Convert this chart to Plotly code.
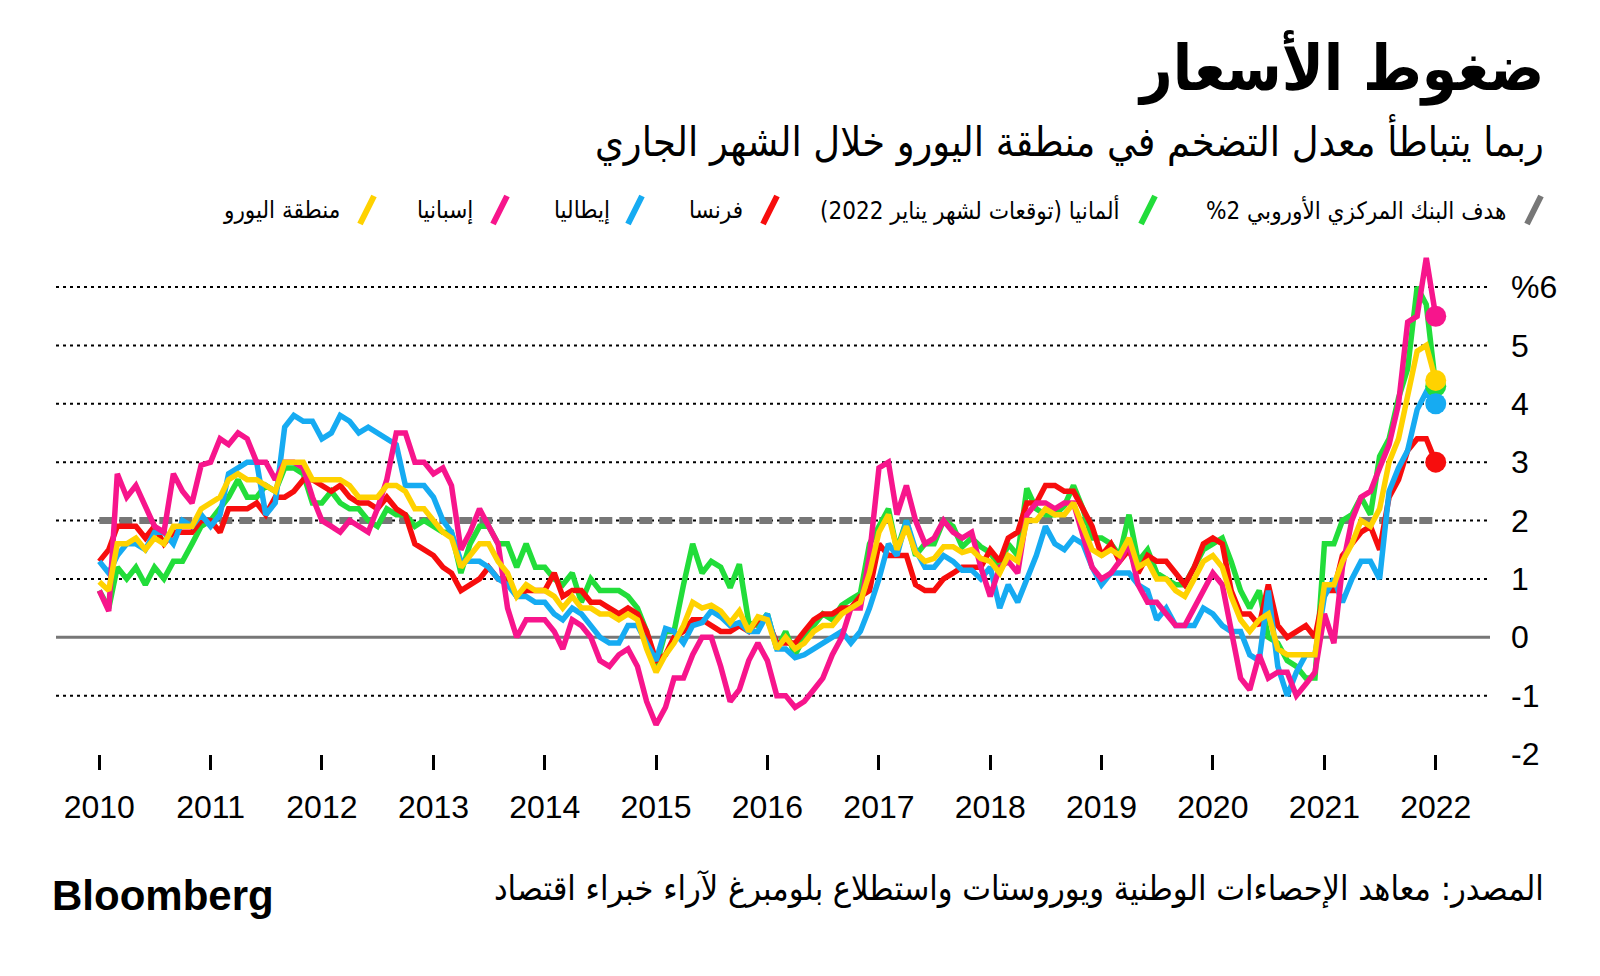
import plotly.graph_objects as go
import pandas as pd

# ---------------- data ----------------
dates = pd.date_range("2010-01-01", "2022-01-01", freq="MS")

germany = [
    0.8, 0.5, 1.2, 1.0, 1.2, 0.9, 1.2, 1.0, 1.3, 1.3, 1.6, 1.9,
    2.0, 2.2, 2.4, 2.7, 2.4, 2.4, 2.6, 2.5, 2.9, 2.9, 2.8, 2.3,
    2.3, 2.5, 2.3, 2.2, 2.2, 2.0, 1.9, 2.2, 2.1, 2.1, 1.9, 2.0,
    1.9, 1.8, 1.8, 1.1, 1.6, 1.9, 1.9, 1.6, 1.6, 1.2, 1.6, 1.2,
    1.2, 1.0, 0.9, 1.1, 0.6, 1.0, 0.8, 0.8, 0.8, 0.7, 0.5, 0.1,
    -0.5, 0.1, 0.1, 0.9, 1.6, 1.1, 1.3, 1.2, 0.85, 1.25, 0.25, 0.2,
    0.4, -0.2, 0.1, -0.3, 0.0, 0.2, 0.4, 0.3, 0.55, 0.65, 0.75, 1.6,
    1.9, 2.2, 1.5, 2.0, 1.4, 1.6, 1.6, 2.0, 1.9, 1.55, 1.7, 1.55,
    1.45, 1.2, 1.6, 1.4, 2.55, 2.2, 2.1, 2.1, 2.25, 2.6, 2.2, 1.7,
    1.7, 1.6, 1.4, 2.1, 1.3, 1.5, 1.1, 1.0, 0.9, 0.9, 1.2, 1.5,
    1.6, 1.7, 1.3, 0.8, 0.5, 0.8, 0.0, -0.1, -0.4, -0.5, -0.7, -0.7,
    1.6, 1.6, 2.0, 2.1, 2.4, 2.1, 3.1, 3.4, 4.1, 4.6, 6.0, 5.7,
    4.3,
]

france = [
    1.3, 1.5, 1.9, 1.9, 1.9, 1.7, 1.9, 1.6, 1.8, 1.8, 1.8, 2.0,
    2.0, 1.8, 2.2, 2.2, 2.2, 2.3, 2.1, 2.4, 2.4, 2.5, 2.7, 2.7,
    2.6, 2.5, 2.6, 2.4, 2.3, 2.3, 2.2, 2.4, 2.2, 2.1, 1.6, 1.5,
    1.4, 1.2, 1.1, 0.8, 0.9, 1.0, 1.2, 1.0, 1.0, 0.7, 0.8, 0.8,
    0.8, 1.1, 0.7, 0.8, 0.8, 0.6, 0.6, 0.5, 0.4, 0.5, 0.4, 0.1,
    -0.4, -0.3, 0.0, 0.1, 0.3, 0.3, 0.2, 0.1, 0.1, 0.2, 0.1, 0.3,
    0.3, -0.1, -0.1, -0.1, 0.1, 0.3, 0.4, 0.4, 0.5, 0.5, 0.7, 0.8,
    1.6, 1.4, 1.4, 1.4, 0.9, 0.8, 0.8, 1.0, 1.1, 1.2, 1.2, 1.2,
    1.5, 1.3, 1.7, 1.8, 2.3, 2.3, 2.6, 2.6, 2.5, 2.5, 2.2, 1.9,
    1.4, 1.6, 1.3, 1.5, 1.1, 1.4, 1.3, 1.3, 1.1, 0.9, 1.2, 1.6,
    1.7, 1.6, 0.8, 0.4, 0.4, 0.2, 0.9, 0.2, 0.0, 0.1, 0.2, 0.0,
    0.8, 0.8, 1.4, 1.6, 1.8, 1.9, 1.5, 2.4, 2.7, 3.2, 3.4, 3.4,
    3.0,
]

italy = [
    1.3, 1.1, 1.4, 1.6, 1.6, 1.5, 1.8, 1.8, 1.6, 2.0, 1.9, 2.1,
    1.9, 2.1, 2.8, 2.9, 3.0, 3.0, 2.1, 2.3, 3.6, 3.8, 3.7, 3.7,
    3.4, 3.5, 3.8, 3.7, 3.5, 3.6, 3.5, 3.4, 3.3, 2.6, 2.6, 2.6,
    2.4, 2.0, 1.8, 1.3, 1.3, 1.3, 1.2, 1.0, 0.9, 0.7, 0.7, 0.6,
    0.6, 0.4, 0.3, 0.5, 0.4, 0.2, 0.0, -0.1, -0.1, 0.2, 0.2, -0.1,
    -0.4, 0.15, 0.1, -0.1, 0.2, 0.25, 0.45, 0.35, 0.2, 0.25, 0.1, 0.1,
    0.4, -0.2, -0.2, -0.35, -0.3, -0.2, -0.1, 0.0, 0.1, -0.1, 0.1, 0.5,
    1.0, 1.6, 1.4, 2.0, 1.5, 1.2, 1.2, 1.4, 1.3, 1.15, 1.15, 1.0,
    1.2, 0.5, 0.9, 0.6, 1.0, 1.4, 1.9, 1.6, 1.5, 1.7, 1.6, 1.2,
    0.9, 1.1, 1.1, 1.1, 0.9, 0.8, 0.3, 0.5, 0.2, 0.2, 0.2, 0.5,
    0.4, 0.2, 0.1, 0.1, -0.3, -0.4, 0.8, -0.5, -1.0, -0.6, -0.3, -0.3,
    0.7, 1.0, 0.6, 1.0, 1.3, 1.3, 1.0, 2.5, 2.9, 3.2, 3.9, 4.2,
    4.0,
]

spain = [
    0.8, 0.45, 2.8, 2.4, 2.6, 2.25, 1.9, 1.8, 2.8, 2.5, 2.3, 2.95,
    3.0, 3.4, 3.3, 3.5, 3.4, 3.0, 3.0, 2.7, 3.0, 3.0, 2.9, 2.4,
    2.0, 1.9, 1.8, 2.0, 1.9, 1.8, 2.2, 2.7, 3.5, 3.5, 3.0, 3.0,
    2.8, 2.9, 2.6, 1.5, 1.8, 2.2, 1.9, 1.6, 0.5, 0.0, 0.3, 0.3,
    0.3, 0.1, -0.2, 0.3, 0.2, 0.0, -0.4, -0.5, -0.3, -0.2, -0.5, -1.1,
    -1.5, -1.2, -0.7, -0.7, -0.3, 0.0, 0.0, -0.5, -1.1, -0.9, -0.4, -0.1,
    -0.4, -1.0, -1.0, -1.2, -1.1, -0.9, -0.7, -0.3, 0.0, 0.5, 0.5, 1.4,
    2.9, 3.0, 2.1, 2.6, 2.0, 1.6, 1.7, 2.0, 1.8, 1.7, 1.8, 1.2,
    0.7, 1.2, 1.3, 1.1, 2.1, 2.3, 2.3, 2.2, 2.3, 2.3, 1.7, 1.2,
    1.0, 1.1, 1.3, 1.6, 0.9, 0.6, 0.6, 0.4, 0.2, 0.2, 0.5, 0.8,
    1.1, 0.9, 0.1, -0.7, -0.9, -0.3, -0.7, -0.6, -0.6, -1.0, -0.8, -0.6,
    0.4, -0.1, 1.2, 2.0, 2.4, 2.5, 2.9, 3.3, 4.0, 5.4, 5.5, 6.5,
    5.5,
]

euro_area = [
    0.95, 0.8, 1.6, 1.6, 1.7, 1.5, 1.7, 1.6, 1.9, 1.9, 1.9, 2.2,
    2.3, 2.4, 2.7, 2.8, 2.7, 2.7, 2.6, 2.5, 3.0, 3.0, 3.0, 2.7,
    2.7, 2.7, 2.7, 2.6, 2.4, 2.4, 2.4, 2.6, 2.6, 2.5, 2.2, 2.2,
    2.0, 1.8, 1.7, 1.2, 1.4, 1.6, 1.6, 1.3, 1.1, 0.7, 0.9, 0.8,
    0.8, 0.7, 0.5, 0.7, 0.5, 0.5, 0.4, 0.4, 0.3, 0.4, 0.3, -0.2,
    -0.6, -0.3, -0.1, 0.2, 0.6, 0.5, 0.55, 0.45, 0.25, 0.45, 0.1, 0.35,
    0.3, -0.2, 0.0, -0.2, -0.1, 0.1, 0.2, 0.2, 0.4, 0.5, 0.6, 1.1,
    1.8, 2.1, 1.5, 1.9, 1.45, 1.3, 1.35, 1.55, 1.55, 1.45, 1.5, 1.35,
    1.3, 1.1, 1.4, 1.3, 2.0, 2.0, 2.2, 2.1, 2.1, 2.3, 1.9, 1.5,
    1.4, 1.5, 1.4, 1.7, 1.2, 1.3, 1.0, 1.0, 0.8, 0.7, 1.0, 1.3,
    1.4, 1.2, 0.7, 0.3, 0.1, 0.3, 0.4, -0.2, -0.3, -0.3, -0.3, -0.3,
    0.9, 0.9, 1.3, 1.6, 2.0, 1.9, 2.2, 3.0, 3.4, 4.1, 4.9, 5.0,
    4.4,
]

ecb_dates = ["2010-01-01", "2022-01-01"]
ecb_target = [2.0, 2.0]

year_ticks = [f"{y}-01-01" for y in range(2010, 2023)]
year_labels = [str(y) for y in range(2010, 2023)]
y_ticks = [-2, -1, 0, 1, 2, 3, 4, 5, 6]
y_labels = ["-2", "-1", "0", "1", "2", "3", "4", "5", "%6"]
grid_levels = [-1, 1, 2, 3, 4, 5, 6]

title = "ضغوط الأسعار"
subtitle = "ربما يتباطأ معدل التضخم في منطقة اليورو خلال الشهر الجاري"
source = "المصدر: معاهد الإحصاءات الوطنية ويوروستات واستطلاع بلومبرغ لآراء خبراء اقتصاد"
legend_names = [
    "هدف البنك المركزي الأوروبي 2%",
    "ألمانيا (توقعات لشهر يناير 2022)",
    "فرنسا",
    "إيطاليا",
    "إسبانيا",
    "منطقة اليورو",
]

# ---------------- style ----------------
GRAY = "#777777"
GREEN = "#22dd3a"
RED = "#f70d0d"
BLUE = "#16abf2"
PINK = "#f7158c"
YELLOW = "#ffd200"
ARABIC = "DejaVu Sans Condensed, DejaVu Sans"
LATIN = "Liberation Sans, Arial, sans-serif"

# the page body adds an 8px margin, so the figure is 16px smaller than the window
W, H = 1584, 960
PL, PR, PT, PB = 48, 102, 244, 214
PW = W - PL - PR
PH = H - PT - PB


def px(x):  # page pixel -> paper
    return (x - 8 - PL) / PW


def py(y):  # page pixel -> paper
    return (H - PB - (y - 8)) / PH


def rtl(s):
    return "\u202b" + s + "\u202c"


fig = go.Figure()

fig.add_trace(go.Scatter(
    x=ecb_dates, y=ecb_target, mode="lines",
    line=dict(color=GRAY, width=7, dash="13px,7px"),
    hoverinfo="skip"))

series = [
    (germany, GREEN),
    (france, RED),
    (italy, BLUE),
    (spain, PINK),
    (euro_area, YELLOW),
]
for vals, col in series:
    fig.add_trace(go.Scatter(
        x=dates, y=vals, mode="lines",
        line=dict(color=col, width=5.5),
        hoverinfo="skip"))
for vals, col in series:
    fig.add_trace(go.Scatter(
        x=dates[-1:], y=vals[-1:], mode="markers",
        marker=dict(color=col, size=21, opacity=1, line=dict(width=0)),
        hoverinfo="skip"))

# grid lines
for lvl in grid_levels:
    fig.add_shape(type="line", xref="paper", x0=0, x1=1, yref="y", y0=lvl, y1=lvl,
                  line=dict(color="black", width=2, dash="3px,4px"), layer="below")
fig.add_shape(type="line", xref="paper", x0=0, x1=1, yref="y", y0=0, y1=0,
              line=dict(color=GRAY, width=3), layer="below")

# title / subtitle
fig.add_annotation(text=rtl("<b>" + title + "</b>"), xref="paper", yref="paper",
                   x=px(1546), y=py(68), xanchor="right", yanchor="middle",
                   showarrow=False, font=dict(family=ARABIC, size=63, color="black"))
fig.add_annotation(text=rtl(subtitle), xref="paper", yref="paper",
                   x=px(1546), y=py(140), xanchor="right", yanchor="middle",
                   showarrow=False, font=dict(family=ARABIC, size=41, color="black"))

# legend
legend_colors = [GRAY, GREEN, RED, BLUE, PINK, YELLOW]
slash_cx = [1534, 1148, 770, 635, 500, 367]
text_right = [1508, 1122, 745, 612, 475, 342]
LY = 210
for name, col, cx, tr in zip(legend_names, legend_colors, slash_cx, text_right):
    fig.add_shape(type="line", xref="paper", yref="paper",
                  x0=px(cx - 7), y0=py(LY + 14), x1=px(cx + 7), y1=py(LY - 14),
                  line=dict(color=col, width=6))
    fig.add_annotation(text=rtl(name), xref="paper", yref="paper",
                       x=px(tr), y=py(LY), xanchor="right", yanchor="middle",
                       showarrow=False, font=dict(family=ARABIC, size=24, color="black"))

# source & logo
fig.add_annotation(text=rtl(source), xref="paper", yref="paper",
                   x=px(1546), y=py(888), xanchor="right", yanchor="middle",
                   showarrow=False, font=dict(family=ARABIC, size=34, color="black"))
fig.add_annotation(text="<b>Bloomberg</b>", xref="paper", yref="paper",
                   x=px(50), y=py(895), xanchor="left", yanchor="middle",
                   showarrow=False, font=dict(family=LATIN, size=42, color="black"))

fig.update_layout(
    width=W, height=H,
    margin=dict(l=PL, r=PR, t=PT, b=PB),
    paper_bgcolor="white", plot_bgcolor="white",
    showlegend=False,
    xaxis=dict(
        type="date", range=["2009-08-12", "2022-06-28"],
        tickvals=year_ticks, ticktext=year_labels,
        ticks="outside", ticklen=15, tickwidth=3, tickcolor="black",
        showgrid=False, zeroline=False, showline=False,
        tickfont=dict(family=LATIN, size=32, color="black"),
        ticklabelstandoff=10,
    ),
    yaxis=dict(
        side="right", range=[-2, 6.6],
        tickvals=y_ticks, ticktext=y_labels,
        showgrid=False, zeroline=False, showline=False, ticks="",
        tickfont=dict(family=LATIN, size=32, color="black"),
        ticklabelstandoff=20,
    ),
)

fig.write_html("out.html")
